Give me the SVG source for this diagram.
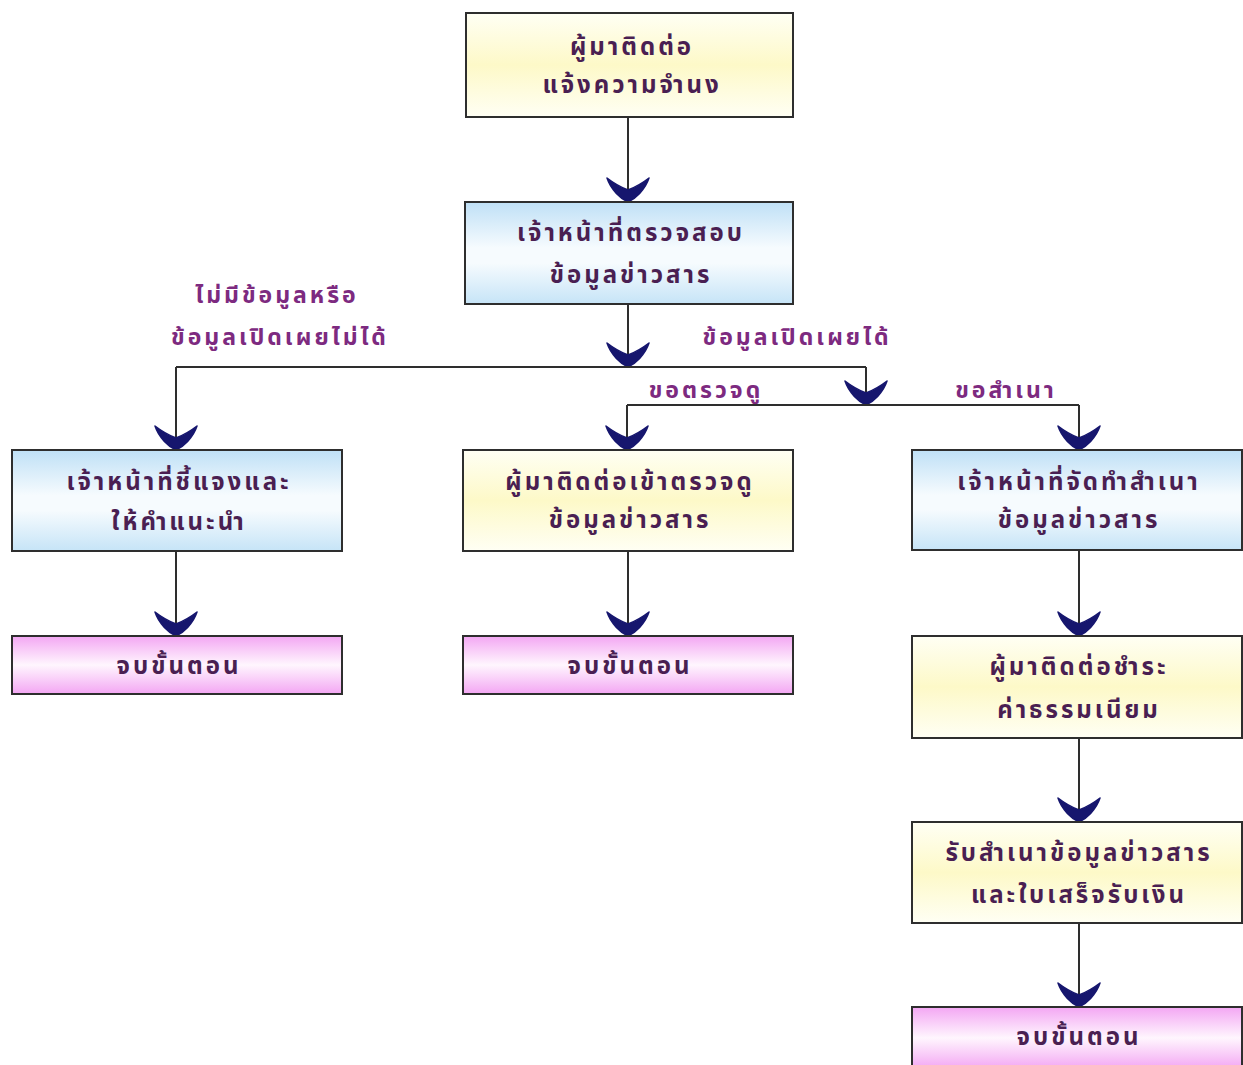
<svg xmlns="http://www.w3.org/2000/svg" width="1243" height="1065" viewBox="0 0 1243 1065">
  <defs>
    <linearGradient id="gYellow" x1="0" y1="0" x2="0" y2="1">
      <stop offset="0" stop-color="#fffff4"/>
      <stop offset="0.5" stop-color="#fdf9c8"/>
      <stop offset="1" stop-color="#fffff4"/>
    </linearGradient>
    <linearGradient id="gBlue" x1="0" y1="0" x2="0" y2="1">
      <stop offset="0" stop-color="#bfe0f6"/>
      <stop offset="0.45" stop-color="#f6fbfe"/>
      <stop offset="0.6" stop-color="#f6fbfe"/>
      <stop offset="1" stop-color="#c6e4f7"/>
    </linearGradient>
    <linearGradient id="gPink" x1="0" y1="0" x2="0" y2="1">
      <stop offset="0" stop-color="#f3a6f3"/>
      <stop offset="0.5" stop-color="#fff6fe"/>
      <stop offset="1" stop-color="#f3a6f3"/>
    </linearGradient>
    <marker id="arrow" markerUnits="userSpaceOnUse" viewBox="-25 -22 26 44" refX="0" refY="0" markerWidth="26" markerHeight="44" orient="auto" overflow="visible">
      <path d="M0,0 C-3,-7 -12,-17 -24,-21 C-17,-12 -14,-5 -12,0 C-14,5 -17,12 -24,21 C-12,17 -3,7 0,0 Z" fill="#16166e" stroke="#16166e" stroke-width="1.5" stroke-linejoin="round"/>
    </marker>
  </defs>
  <style>
    .box { stroke: #2e2e2e; stroke-width: 2; }
    .y { fill: url(#gYellow); }
    .b { fill: url(#gBlue); }
    .p { fill: url(#gPink); }
    .t { font-family: "Noto Sans Thai", "Noto Sans", "DejaVu Sans", sans-serif; font-size: 24px; font-weight: bold; letter-spacing: 3px; fill: #4a1f52; text-anchor: middle; }
    .lbl { font-family: "Noto Sans Thai", "Noto Sans", "DejaVu Sans", sans-serif; font-size: 23px; font-weight: bold; letter-spacing: 3px; fill: #7d2a80; text-anchor: middle; }
    .c { stroke: #2e2e2e; stroke-width: 2; fill: none; }
    .ca { stroke: #2e2e2e; stroke-width: 2; fill: none; marker-end: url(#arrow); }
  </style>
  <rect width="1243" height="1065" fill="#ffffff"/>

  <g id="connectors">
    <line class="ca" x1="628" y1="117" x2="628" y2="202"/>
    <line class="ca" x1="628" y1="304" x2="628" y2="367"/>
    <line class="c" x1="176" y1="367" x2="866" y2="367"/>
    <line class="ca" x1="176" y1="367" x2="176" y2="450"/>
    <line class="ca" x1="866" y1="367" x2="866" y2="405"/>
    <line class="c" x1="627" y1="405" x2="1079" y2="405"/>
    <line class="ca" x1="627" y1="405" x2="627" y2="450"/>
    <line class="ca" x1="1079" y1="405" x2="1079" y2="450"/>
    <line class="ca" x1="176" y1="551" x2="176" y2="636"/>
    <line class="ca" x1="628" y1="551" x2="628" y2="636"/>
    <line class="ca" x1="1079" y1="550" x2="1079" y2="636"/>
    <line class="ca" x1="1079" y1="738" x2="1079" y2="822"/>
    <line class="ca" x1="1079" y1="923" x2="1079" y2="1007"/>
  </g>

  <g id="labels">
    <text class="lbl" x="277" y="303">ไม่มีข้อมูลหรือ</text>
    <text class="lbl" x="280" y="345">ข้อมูลเปิดเผยไม่ได้</text>
    <text class="lbl" x="797" y="345">ข้อมูลเปิดเผยได้</text>
    <text class="lbl" x="706" y="398">ขอตรวจดู</text>
    <text class="lbl" x="1006" y="398">ขอสำเนา</text>
  </g>

  <g id="n1">
    <rect class="box y" x="466" y="13" width="327" height="104"/>
    <text class="t" x="632" y="55">ผู้มาติดต่อ</text>
    <text class="t" x="632" y="93">แจ้งความจำนง</text>
  </g>
  <g id="n2">
    <rect class="box b" x="465" y="202" width="328" height="102"/>
    <text class="t" x="631" y="241">เจ้าหน้าที่ตรวจสอบ</text>
    <text class="t" x="631" y="283">ข้อมูลข่าวสาร</text>
  </g>
  <g id="n3">
    <rect class="box b" x="12" y="450" width="330" height="101"/>
    <text class="t" x="179" y="490">เจ้าหน้าที่ชี้แจงและ</text>
    <text class="t" x="179" y="530">ให้คำแนะนำ</text>
  </g>
  <g id="n4">
    <rect class="box p" x="12" y="636" width="330" height="58"/>
    <text class="t" x="179" y="674">จบขั้นตอน</text>
  </g>
  <g id="n5">
    <rect class="box y" x="463" y="450" width="330" height="101"/>
    <text class="t" x="630" y="490">ผู้มาติดต่อเข้าตรวจดู</text>
    <text class="t" x="630" y="528">ข้อมูลข่าวสาร</text>
  </g>
  <g id="n6">
    <rect class="box p" x="463" y="636" width="330" height="58"/>
    <text class="t" x="630" y="674">จบขั้นตอน</text>
  </g>
  <g id="n7">
    <rect class="box b" x="912" y="450" width="330" height="100"/>
    <text class="t" x="1079" y="490">เจ้าหน้าที่จัดทำสำเนา</text>
    <text class="t" x="1079" y="528">ข้อมูลข่าวสาร</text>
  </g>
  <g id="n8">
    <rect class="box y" x="912" y="636" width="330" height="102"/>
    <text class="t" x="1079" y="675">ผู้มาติดต่อชำระ</text>
    <text class="t" x="1079" y="718">ค่าธรรมเนียม</text>
  </g>
  <g id="n9">
    <rect class="box y" x="912" y="822" width="330" height="101"/>
    <text class="t" x="1079" y="861">รับสำเนาข้อมูลข่าวสาร</text>
    <text class="t" x="1079" y="903">และใบเสร็จรับเงิน</text>
  </g>
  <g id="n10">
    <rect class="box p" x="912" y="1007" width="330" height="62"/>
    <text class="t" x="1079" y="1045">จบขั้นตอน</text>
  </g>
</svg>
